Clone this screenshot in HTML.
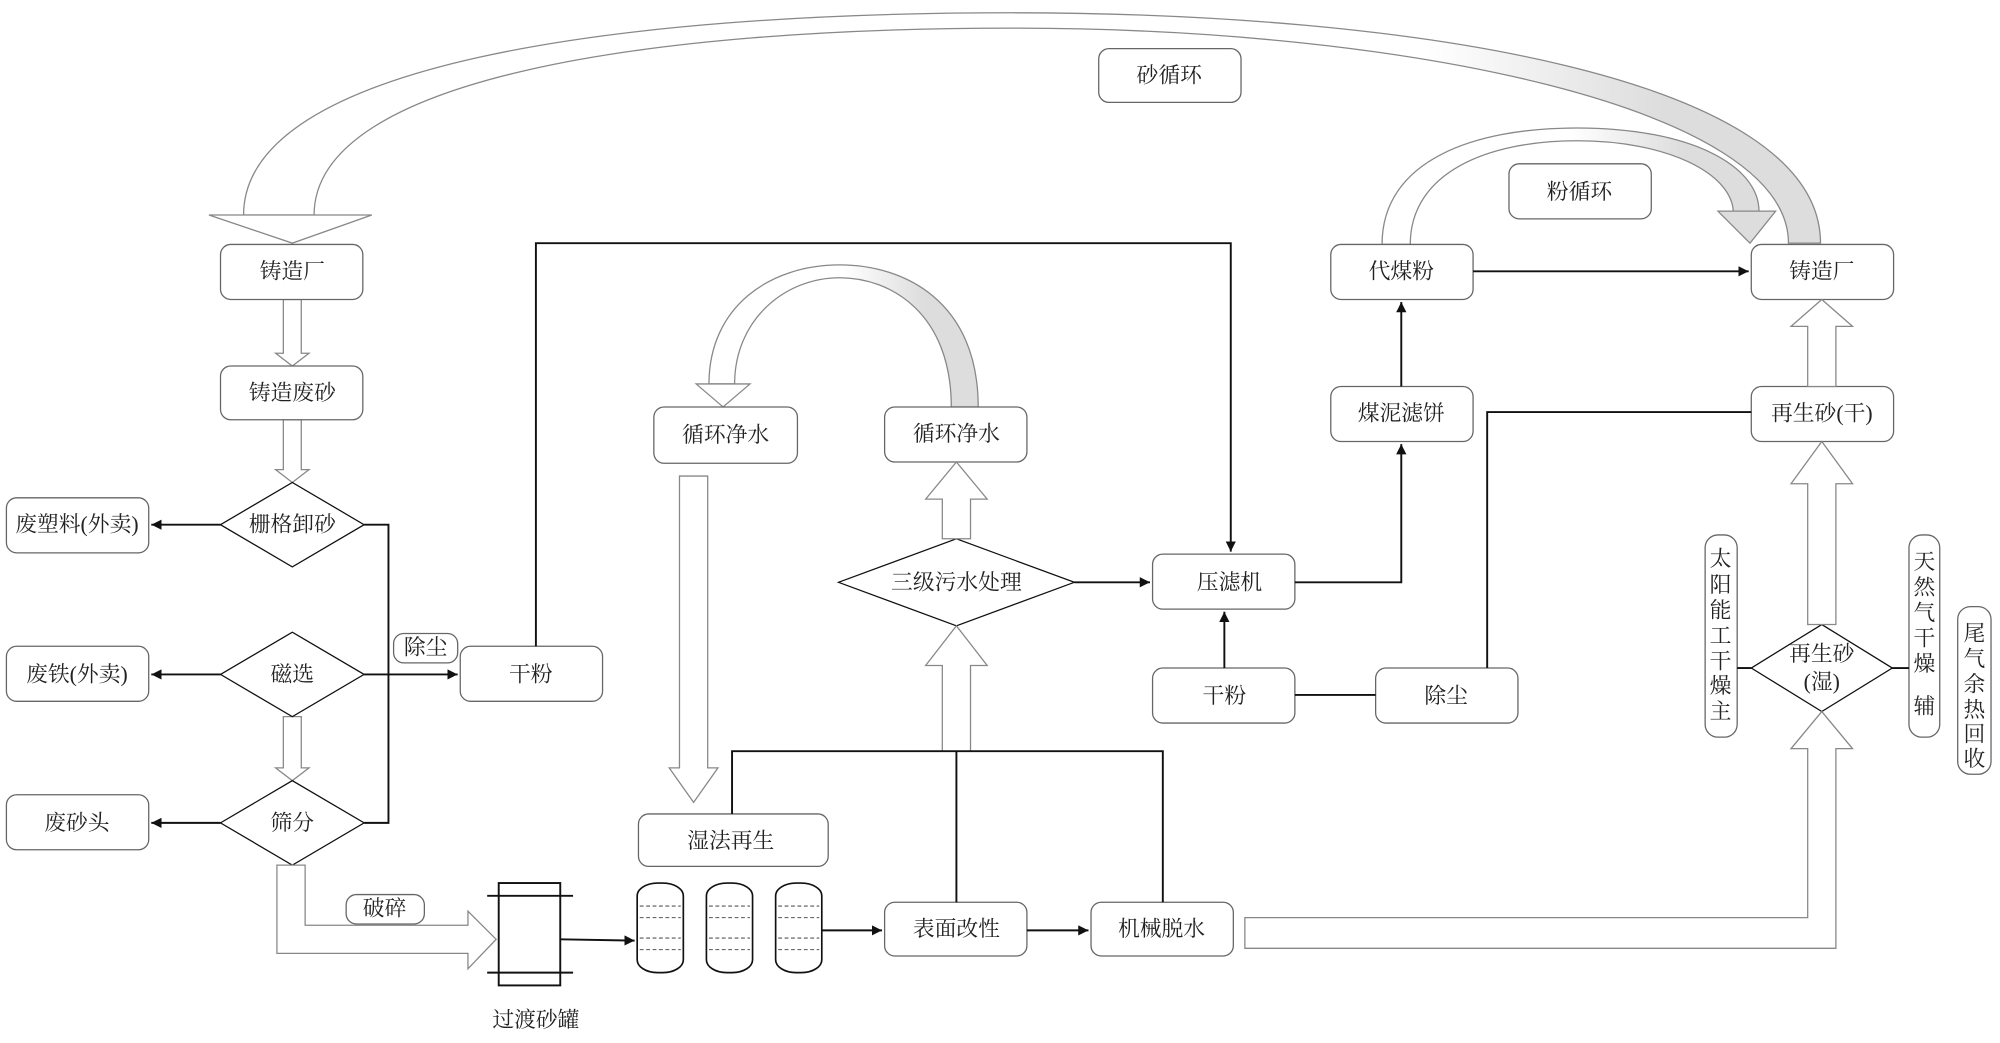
<!DOCTYPE html>
<html><head><meta charset="utf-8"><style>
html,body{margin:0;padding:0;background:#fff}
svg{display:block}
text{font-family:"Liberation Serif","Noto Serif CJK SC","Noto Sans CJK SC",serif;font-size:17px;fill:#222;text-anchor:middle;dominant-baseline:central}
.b{fill:#fff;stroke:#666;stroke-width:1}
.l{fill:none;stroke:#111;stroke-width:1.5}
.h{fill:#fff;stroke:#888;stroke-width:1}
</style></head><body>
<svg width="2000" height="1043" viewBox="0 0 1560 815" preserveAspectRatio="none" xmlns="http://www.w3.org/2000/svg">
<defs>
<marker id="a" viewBox="0 0 10 10" refX="10" refY="5" markerWidth="8" markerHeight="8" markerUnits="userSpaceOnUse" orient="auto"><path d="M0,0L10,5L0,10z" fill="#111"/></marker>
<linearGradient id="g1" x1="0" x2="1" y1="0" y2="0"><stop offset="0.75" stop-color="#fff"/><stop offset="0.9" stop-color="#ddd"/></linearGradient>
<linearGradient id="g2" x1="0" x2="1" y1="0" y2="0"><stop offset="0.5" stop-color="#fff"/><stop offset="0.8" stop-color="#ddd"/></linearGradient>
</defs>

<!-- big sand loop -->
<path class="h" style="fill:url(#g1)" d="M190,168 C190,50 480,10 790,10 C1100,10 1420,60 1420,190 L1395,190 C1395,85 1100,22 790,22 C510,22 245,60 245,168 Z"/>
<polygon class="h" points="163,168 290,168 228,190"/>
<rect class="b" x="857" y="38" width="111" height="42" rx="8"/><text x="912" y="59">砂循环</text>

<!-- powder loop -->
<path class="h" style="fill:url(#g2)" d="M1078,191 C1078,125 1150,100 1230,100 C1320,100 1372,130 1372,165 L1352,165 C1350,135 1300,110 1230,110 C1160,110 1100,135 1100,191 Z"/>
<polygon class="h" style="fill:#ddd" points="1340,165 1385,165 1365,190"/>
<rect class="b" x="1177" y="128" width="111" height="43" rx="8"/><text x="1232" y="150">粉循环</text>

<!-- water loop -->
<path class="h" style="fill:url(#g2)" d="M763,318 C763,235 705,207 655,207 C600,207 553,240 553,300 L573,300 C573,250 612,217 655,217 C695,217 742,245 742,318 Z"/>
<polygon class="h" points="543,300 585,300 564,318"/>

<!-- left hollow down arrows -->
<polygon class="h" points="221,234 235,234 235,276 241,276 228,286 215,276 221,276"/>
<polygon class="h" points="221,328 235,328 235,367 241,367 228,377 215,367 221,367"/>
<polygon class="h" points="221,560 235,560 235,600 241,600 228,610 215,600 221,600"/>

<!-- boxes -->
<rect class="b" x="172" y="191" width="111" height="43" rx="8"/><text x="228" y="212">铸造厂</text>
<rect class="b" x="172" y="286" width="111" height="42" rx="8"/><text x="228" y="307">铸造废砂</text>
<rect class="b" x="510" y="318" width="112" height="44" rx="8"/><text x="566" y="340">循环净水</text>
<rect class="b" x="690" y="318" width="111" height="43" rx="8"/><text x="746" y="339">循环净水</text>
<rect class="b" x="1038" y="191" width="111" height="43" rx="8"/><text x="1093" y="212">代煤粉</text>
<rect class="b" x="1366" y="191" width="111" height="43" rx="8"/><text x="1421" y="212">铸造厂</text>
<rect class="b" x="1038" y="302" width="111" height="43" rx="8"/><text x="1093" y="323">煤泥滤饼</text>
<rect class="b" x="1366" y="302" width="111" height="43" rx="8"/><text x="1421" y="323">再生砂(干)</text>
<rect class="b" x="5" y="389" width="111" height="43" rx="8"/><text x="60" y="410">废塑料(外卖)</text>
<rect class="b" x="5" y="505" width="111" height="43" rx="8"/><text x="60" y="527">废铁(外卖)</text>
<rect class="b" x="5" y="621" width="111" height="43" rx="8"/><text x="60" y="643">废砂头</text>
<rect class="b" x="359" y="505" width="111" height="43" rx="8"/><text x="414" y="527">干粉</text>
<rect class="b" x="307" y="495" width="50" height="23" rx="8"/><text x="332" y="506">除尘</text>
<rect class="b" x="899" y="433" width="111" height="43" rx="8"/><text x="959" y="455">压滤机</text>
<rect class="b" x="899" y="522" width="111" height="43" rx="8"/><text x="955" y="544">干粉</text>
<rect class="b" x="1073" y="522" width="111" height="43" rx="8"/><text x="1128" y="544">除尘</text>
<rect class="b" x="498" y="636" width="148" height="41" rx="8"/><text x="570" y="657">湿法再生</text>
<rect class="b" x="690" y="705" width="111" height="42" rx="8"/><text x="746" y="726">表面改性</text>
<rect class="b" x="851" y="705" width="111" height="42" rx="8"/><text x="906" y="726">机械脱水</text>
<rect class="b" x="270" y="699" width="61" height="23" rx="8"/><text x="300" y="710">破碎</text>

<!-- vertical pills -->
<rect class="b" x="1330" y="418" width="25" height="158" rx="10"/>
<text x="1342" y="437">太</text><text x="1342" y="457">阳</text><text x="1342" y="477">能</text><text x="1342" y="497">工</text><text x="1342" y="517">干</text><text x="1342" y="536">燥</text><text x="1342" y="556">主</text>
<rect class="b" x="1489" y="418" width="24" height="158" rx="10"/>
<text x="1501" y="439">天</text><text x="1501" y="459">然</text><text x="1501" y="479">气</text><text x="1501" y="499">干</text><text x="1501" y="519">燥</text><text x="1501" y="552">辅</text>
<rect class="b" x="1527" y="474" width="26" height="131" rx="10"/>
<text x="1540" y="495">尾</text><text x="1540" y="515">气</text><text x="1540" y="535">余</text><text x="1540" y="555">热</text><text x="1540" y="574">回</text><text x="1540" y="593">收</text>

<!-- diamonds -->
<polygon class="b" style="stroke:#111" points="172,410 228,377 284,410 228,443"/><text x="228" y="410">栅格卸砂</text>
<polygon class="b" style="stroke:#111" points="172,527 228,494 284,527 228,560"/><text x="228" y="527">磁选</text>
<polygon class="b" style="stroke:#111" points="172,643 228,610 284,643 228,676"/><text x="228" y="643">筛分</text>
<polygon class="b" style="stroke:#111" points="654,455 746,421 838,455 746,489"/><text x="746" y="455">三级污水处理</text>
<polygon class="b" style="stroke:#111" points="1366,522 1421,488 1476,522 1421,556"/><text x="1421" y="511">再生砂</text><text x="1421" y="533">(湿)</text>

<!-- connectors -->
<line class="l" x1="172" y1="410" x2="118" y2="410" marker-end="url(#a)"/>
<line class="l" x1="172" y1="527" x2="118" y2="527" marker-end="url(#a)"/>
<line class="l" x1="172" y1="643" x2="118" y2="643" marker-end="url(#a)"/>
<polyline class="l" points="284,410 303,410 303,643 284,643"/>
<line class="l" x1="284" y1="527" x2="357" y2="527" marker-end="url(#a)"/>
<polyline class="l" points="418,505 418,190 960,190 960,431" marker-end="url(#a)"/>
<line class="l" x1="838" y1="455" x2="897" y2="455" marker-end="url(#a)"/>
<polyline class="l" points="1010,455 1093,455 1093,347" marker-end="url(#a)"/>
<line class="l" x1="1093" y1="302" x2="1093" y2="236" marker-end="url(#a)"/>
<line class="l" x1="1149" y1="212" x2="1364" y2="212" marker-end="url(#a)"/>
<line class="l" x1="955" y1="522" x2="955" y2="478" marker-end="url(#a)"/>
<line class="l" x1="1010" y1="543" x2="1073" y2="543"/>
<polyline class="l" points="1160,522 1160,322 1366,322"/>
<line class="l" x1="1355" y1="522" x2="1366" y2="522"/>
<line class="l" x1="1476" y1="522" x2="1489" y2="522"/>

<!-- right hollow up arrows -->
<polygon class="h" points="1410,302 1432,302 1432,255 1445,255 1421,234 1397,255 1410,255"/>
<polygon class="h" points="1410,488 1432,488 1432,378 1445,378 1421,345 1397,378 1410,378"/>
<polygon class="h" points="971,717 1410,717 1410,585 1397,585 1421,556 1445,585 1432,585 1432,741 971,741"/>

<!-- middle hollow arrows -->
<polygon class="h" points="735,421 757,421 757,390 770,390 746,361 722,390 735,390"/>
<polygon class="h" points="735,587 757,587 757,520 770,520 746,489 722,520 735,520"/>
<polygon class="h" points="530,372 552,372 552,600 560,600 541,627 522,600 530,600"/>
<polygon class="h" points="216,676 238,676 238,723 365,723 365,712 387,734 365,757 365,745 216,745"/>

<polyline class="l" points="571,636 571,587 907,587 907,705"/>
<line class="l" x1="746" y1="587" x2="746" y2="705"/>

<!-- transition tank -->
<rect x="389" y="690" width="48" height="80" fill="#fff" stroke="#111" stroke-width="1.5"/>
<line class="l" x1="380" y1="700" x2="447" y2="700"/>
<line class="l" x1="380" y1="760" x2="447" y2="760"/>
<text x="418" y="797">过渡砂罐</text>
<line class="l" x1="437" y1="734" x2="495" y2="735" marker-end="url(#a)"/>

<!-- tanks -->
<g fill="#fff" stroke="#111" stroke-width="1.3">
<rect x="497" y="690" width="36" height="70" rx="16" ry="10"/>
<rect x="551" y="690" width="36" height="70" rx="16" ry="10"/>
<rect x="605" y="690" width="36" height="70" rx="16" ry="10"/>
</g>
<g stroke="#555" stroke-width="0.8" stroke-dasharray="3,2">
<line x1="499" y1="708" x2="531" y2="708"/><line x1="499" y1="717" x2="531" y2="717"/><line x1="499" y1="733" x2="531" y2="733"/><line x1="499" y1="742" x2="531" y2="742"/>
<line x1="553" y1="708" x2="585" y2="708"/><line x1="553" y1="717" x2="585" y2="717"/><line x1="553" y1="733" x2="585" y2="733"/><line x1="553" y1="742" x2="585" y2="742"/>
<line x1="607" y1="708" x2="639" y2="708"/><line x1="607" y1="717" x2="639" y2="717"/><line x1="607" y1="733" x2="639" y2="733"/><line x1="607" y1="742" x2="639" y2="742"/>
</g>
<line class="l" x1="641" y1="727" x2="688" y2="727" marker-end="url(#a)"/>
<line class="l" x1="801" y1="727" x2="849" y2="727" marker-end="url(#a)"/>
</svg>
</body></html>
